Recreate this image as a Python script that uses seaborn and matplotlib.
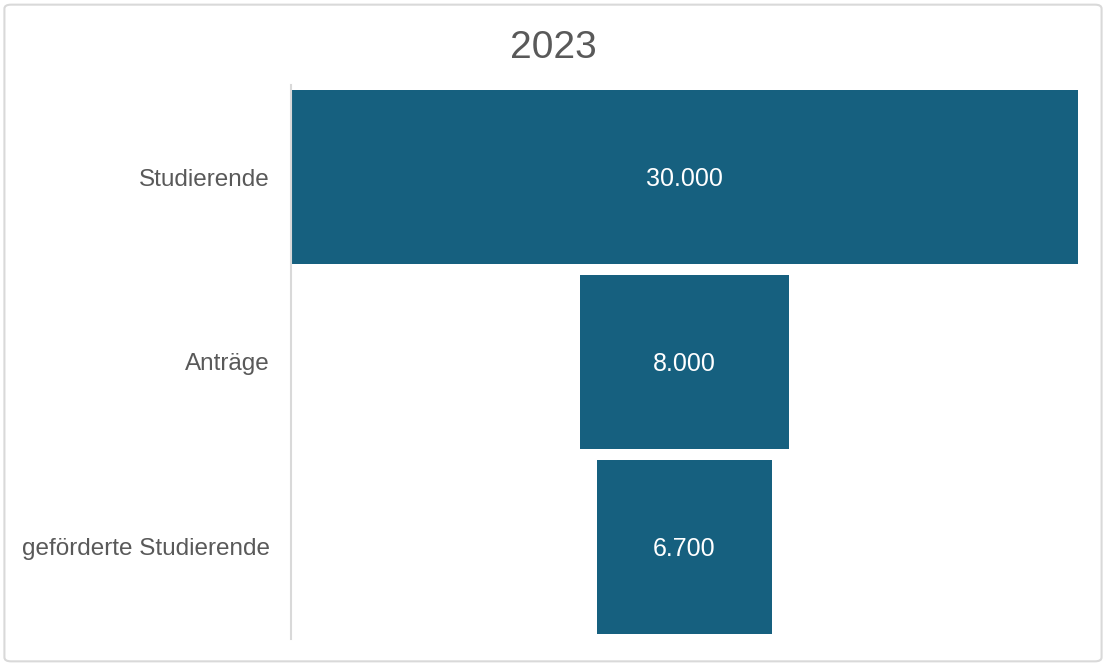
import matplotlib
matplotlib.use("Agg")
import matplotlib.pyplot as plt
from matplotlib.patches import FancyBboxPatch
import seaborn as sns
import pandas as pd

# Data
stages = ["Studierende", "Anträge", "geförderte Studierende"]
counts = [30000, 8000, 6700]
title = "2023"

BAR_COLOR = "#16607f"
TEXT_COLOR = "#595959"

sns.set_style("white")
plt.rcParams["font.family"] = ["Liberation Sans", "DejaVu Sans"]

df = pd.DataFrame({"stage": stages, "count": counts})

fig = plt.figure(figsize=(11.06, 6.66), dpi=100)
ax = fig.add_axes([0.2631, 0.040, 0.7116, 0.833])

sns.barplot(data=df, x="count", y="stage", orient="h", color=BAR_COLOR,
            width=0.94, saturation=1, ax=ax)

# Center bars to make a funnel
top = max(counts)
for patch, v in zip(ax.patches, counts):
    patch.set_x((top - v) / 2)
    patch.set_edgecolor("none")
    ax.text(top / 2, patch.get_y() + patch.get_height() / 2 + 0.01,
            f"{v:,}".replace(",", "."), color="white", fontsize=18,
            ha="center", va="center")

ax.set_xlim(0, top)
ax.set_ylim(2.5, -0.5)
ax.set_xlabel("")
ax.set_ylabel("")
ax.set_xticks([])
ax.tick_params(axis="y", length=0, pad=15, labelsize=17.5, labelcolor=TEXT_COLOR)

for side in ["top", "right", "bottom"]:
    ax.spines[side].set_visible(False)
ax.spines["left"].set_color("#d9d9d9")
ax.spines["left"].set_linewidth(1.5)

fig.text(0.5, 0.928, title, ha="center", va="center", fontsize=28,
         color=TEXT_COLOR)

# Chart area border
border = FancyBboxPatch((0.004, 0.007), 0.992, 0.986, boxstyle="round,pad=0,rounding_size=0.006",
                        transform=fig.transFigure, facecolor="none",
                        edgecolor="#d9d9d9", linewidth=1.5)
fig.patches.append(border)

fig.savefig("out.png", dpi=100)
